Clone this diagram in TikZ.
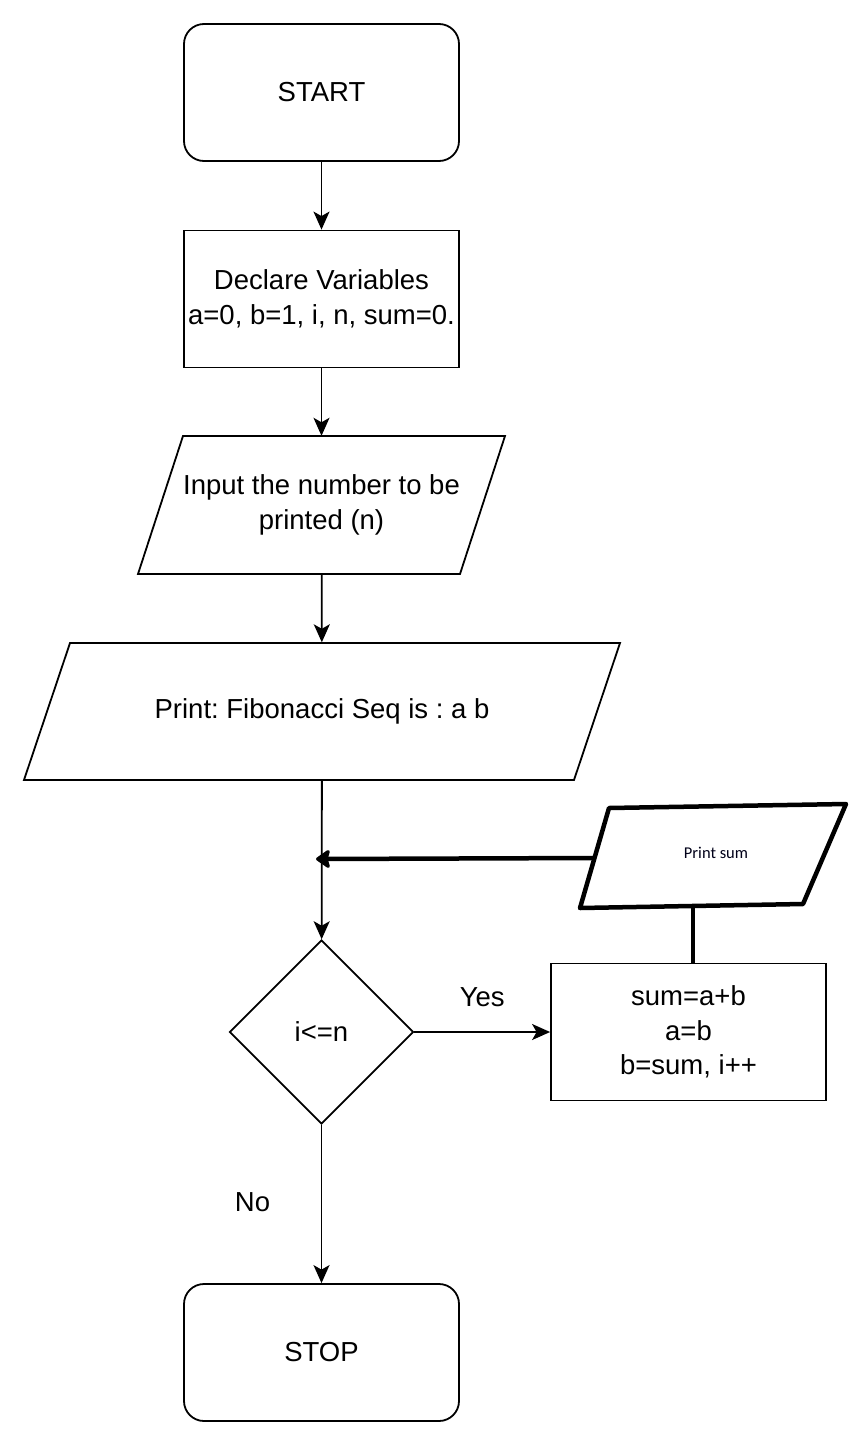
\documentclass[tikz,border=0pt]{standalone}
\usepackage{fontspec}
\setmainfont{Liberation Sans}
\newfontfamily\smallfont{Carlito}
\usetikzlibrary{shapes.geometric,arrows.meta}
\frenchspacing
\begin{document}
\begin{tikzpicture}[x=1pt,y=-1pt,
  box/.style={draw, line width=1.8pt, minimum width=275, minimum height=137, align=center, font=\fontsize{27.5}{34.5}\selectfont, inner sep=0pt},
  termbox/.style={box, rounded corners=20},
  para/.style={draw=none, minimum height=138, align=center, font=\fontsize{27.5}{34.5}\selectfont, inner sep=0pt},
  decbox/.style={draw, diamond, line width=1.8pt, minimum width=184, minimum height=184, inner sep=0pt, font=\fontsize{27.5}{30}\selectfont},
  flow/.style={line width=1.8pt, -{Stealth[length=18pt,width=16pt,inset=4.5pt]}},
  thickline/.style={line width=4.5pt, line join=round, line cap=round},
  lbl/.style={font=\fontsize{27.5}{30}\selectfont}
]
\useasboundingbox (0,0) rectangle (850,1446);
\fill[white] (0,0) rectangle (850,1446);

\node[termbox] (start) at (321.5,92.5) {START};
\node[box] (decl) at (321.5,299) {Declare Variables\\a=0, b=1, i, n, sum=0.};
\node[para, minimum width=322] (inp) at (321.5,505) {Input the number to be\\printed (n)};
\draw[line width=1.8pt, line join=miter] (183,436) -- (505,436) -- (460,574) -- (138,574) -- cycle;
\node[para, minimum width=550] (pfib) at (322,711.5) {Print: Fibonacci Seq is : a b};
\draw[line width=1.8pt] (70,643) -- (620,643) -- (574,780) -- (24,780) -- cycle;
\node[decbox] (dec) at (321.5,1032) {i<=n};
\node[box] (calc) at (688.5,1032) {sum=a+b\\a=b\\b=sum, i++};
\node[termbox] (stop) at (321.5,1352.5) {STOP};

% Print sum parallelogram
\node[font=\smallfont\fontsize{16.5}{20}\selectfont, text=black!90!blue] (psum) at (716,853) {Print sum};
\draw[thickline] (609,808) -- (846,804) -- (803,904) -- (580,908) -- cycle;
\coordinate (psleft) at (595,858);
\coordinate (psbot) at (693,906);
\coordinate (junc) at (316,859);

\draw[flow] (start) -- (decl);
\draw[flow] (decl) -- (inp);
\draw[flow] (inp) -- (pfib);
\draw[flow] (pfib) -- (dec);
\draw[flow] (dec) -- node[lbl, yshift=35pt] (yes) {Yes} (calc);
\draw[flow] (dec) -- node[lbl, xshift=-69pt, yshift=2pt] (no) {No} (stop);

\draw[line width=4.5pt, -{Stealth[length=16pt,width=22pt,inset=3pt,round]}] (psleft) -- (junc);
\draw[line width=4.5pt] (psbot) -- (calc.north -| psbot);
\end{tikzpicture}
\end{document}
